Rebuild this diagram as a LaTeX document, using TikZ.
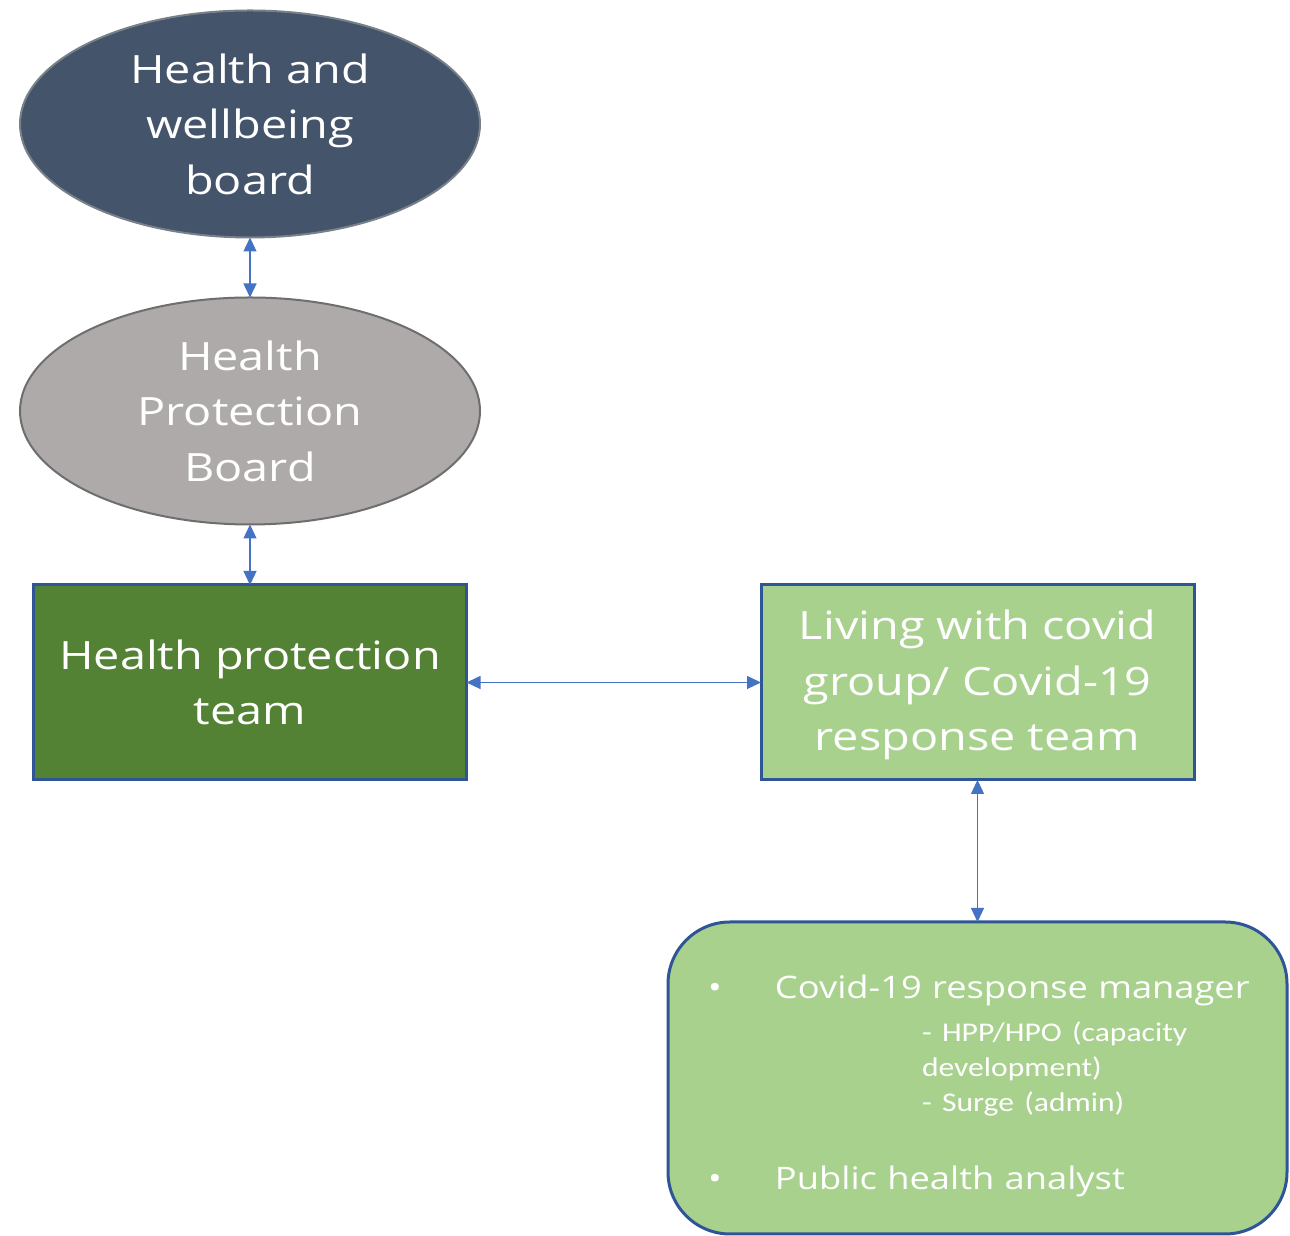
\documentclass[tikz,border=0pt]{standalone}
\usepackage{fontspec}
\setmainfont{Open Sans}[FakeStretch=1.2]
\newfontfamily\subfont{Carlito}[FakeStretch=1.17]
\newfontfamily\listfont{Open Sans}[FakeStretch=1.17]
\usepackage{xcolor}
\usepackage{tikz}
\usetikzlibrary{shapes.geometric,arrows.meta}

\begin{document}
\begin{tikzpicture}[x=1pt,y=1pt,
  every node/.style={text=white,align=center,outer sep=0pt,inner sep=0pt},
  board/.style={ellipse,line width=2pt,minimum width=460pt,minimum height=227pt},
  team/.style={rectangle,draw=edgeColor,line width=3pt,minimum width=433pt,minimum height=195pt},
  link/.style={draw=linkColor,line width=1.3pt,{Triangle[length=14pt,width=13pt]}-{Triangle[length=14pt,width=13pt]}},
  bigtext/.style={font=\fontsize{39}{55.5}\selectfont}]
\definecolor{navyColor}{RGB}{68,84,106}
\definecolor{navyEdge}{RGB}{120,128,138}
\definecolor{greyColor}{RGB}{174,170,170}
\definecolor{greyEdge}{RGB}{110,110,110}
\definecolor{darkGreen}{RGB}{84,130,53}
\definecolor{lightGreen}{RGB}{169,209,142}
\definecolor{edgeColor}{RGB}{47,85,151}
\definecolor{linkColor}{RGB}{68,114,196}
\path[use as bounding box,fill=white] (0,0) rectangle (1290,1236);

\node[board,bigtext,fill=navyColor,draw=navyEdge] (hwb) at (250,1112) {Health and\\wellbeing\\board};

\node[board,bigtext,fill=greyColor,draw=greyEdge] (hpb) at (250,825) {Health\\Protection\\Board};

\node[team,bigtext,fill=darkGreen] (hpt) at (250,553.5) {Health protection\\team};

\node[team,bigtext,fill=lightGreen,text depth=4pt] (lwc) at (977.5,553.5) {Living with covid\\group/ Covid-19\\response team};

\node[rectangle,rounded corners=62pt,draw=edgeColor,line width=3pt,fill=lightGreen,
  minimum width=619pt,minimum height=312pt,text width=579pt,align=left,
  font=\listfont\fontsize{31}{40}\selectfont] (crt) at (977.5,158) {%
  \rule{0pt}{39pt}\makebox[87pt][l]{\hspace*{20pt}\textbullet}Covid-19 response manager\\[8pt]
  {\subfont\fontsize{27}{35}\selectfont
  \hspace*{234pt}- HPP/HPO (capacity\\
  \hspace*{234pt}development)\\
  \hspace*{234pt}- Surge (admin)\\[38pt]}
  \makebox[87pt][l]{\hspace*{20pt}\textbullet}Public health analyst};

\draw[link] (hwb.south) -- (hpb.north);
\draw[link] (hpb.south) -- (hpt.north);
\draw[link] (hpt.east) -- (lwc.west);
\draw[link] (lwc.south) -- (crt.north);
\end{tikzpicture}
\end{document}
